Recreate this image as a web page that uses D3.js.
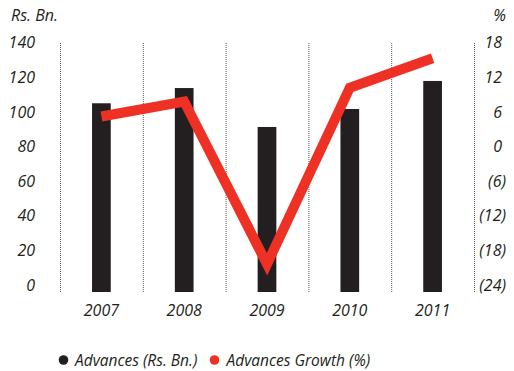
<!DOCTYPE html>
<html>
<head>
<meta charset="utf-8">
<script src="https://cdn.jsdelivr.net/npm/d3@7"></script>
<style>
  html, body { margin: 0; padding: 0; background: #fff; }
  svg text { font-family: "Open Sans", "Noto Sans", sans-serif; font-style: italic; fill: #231f20; }
</style>
</head>
<body>
<svg id="chart" width="514" height="371"></svg>
<script>
// Advances and year-on-year growth
const years = ["2007", "2008", "2009", "2010", "2011"];
const advances = [105, 113.8, 91.3, 101.7, 117.9];      // Rs. Bn.
const growth = [5.2, 7.8, -20.4, 10.2, 15.3];           // %
const leftTicks = [0, 20, 40, 60, 80, 100, 120, 140];
const rightTicks = [-24, -18, -12, -6, 0, 6, 12, 18];

const BLACK = "#231f20";
const RED = "#ee3124";

const svg = d3.select("#chart");

const plotTop = 43, plotBottom = 292;

const x = d3.scaleBand().domain(years).range([60, 474]).paddingInner(0).paddingOuter(0);
const yL = d3.scaleLinear().domain([0, 140]).range([285, 42.7]);
const yR = d3.scaleLinear().domain([-24, 18]).range([285, 42.7]);

// dotted separators between years
const seps = x.domain().map(d => x(d)).concat([x.range()[1]]);
svg.append("g").selectAll("line").data(seps).join("line")
  .attr("x1", d => d + 0.5).attr("x2", d => d + 0.5)
  .attr("y1", plotTop).attr("y2", plotBottom)
  .attr("stroke", "#555").attr("stroke-width", 1)
  .attr("stroke-dasharray", "1,1");

// bars
const barW = 18.7;
svg.append("g").selectAll("rect").data(advances).join("rect")
  .attr("x", (d, i) => x(years[i]) + x.bandwidth() / 2 - barW / 2)
  .attr("width", barW)
  .attr("y", d => yL(d))
  .attr("height", d => plotBottom - yL(d))
  .attr("fill", BLACK);

// growth line
const line = d3.line()
  .x((d, i) => x(years[i]) + x.bandwidth() / 2)
  .y(d => yR(d));
svg.append("path").datum(growth)
  .attr("d", line)
  .attr("fill", "none")
  .attr("stroke", RED)
  .attr("stroke-width", 10)
  .attr("stroke-linejoin", "miter")
  .attr("stroke-miterlimit", 10)
  .attr("stroke-linecap", "butt");

// left axis
const leftAxis = d3.axisLeft(yL).tickValues(leftTicks).tickSize(0).tickPadding(0);
const gL = svg.append("g").attr("transform", "translate(35,0)").call(leftAxis);
gL.select(".domain").remove();
gL.selectAll("text").attr("font-size", 16).attr("font-family", null).attr("fill", null);

// right axis, negatives shown in parentheses
const fmtR = v => v < 0 ? "(" + Math.abs(v) + ")" : String(v);
const rightAxis = d3.axisRight(yR).tickValues(rightTicks).tickSize(0).tickPadding(0).tickFormat(fmtR);
const gR = svg.append("g").call(rightAxis);
gR.select(".domain").remove();
gR.selectAll("text")
  .attr("font-size", 16).attr("font-family", null).attr("fill", null)
  .attr("text-anchor", "end")
  .attr("x", d => d < 0 ? 506 : 502);

// x axis labels
const xAxis = d3.axisBottom(x).tickSize(0).tickPadding(0);
const gX = svg.append("g").attr("transform", "translate(0,305)").call(xAxis);
gX.select(".domain").remove();
gX.selectAll("text").attr("font-size", 16).attr("font-family", null).attr("fill", null);

// axis titles
svg.append("text").attr("x", 11).attr("y", 20.5).attr("font-size", 16).text("Rs. Bn.");
svg.append("text").attr("x", 506).attr("y", 20.5).attr("font-size", 16).attr("text-anchor", "end").text("%");

// legend
const legend = [
  { label: "Advances (Rs. Bn.)", color: BLACK, cx: 63.5, tx: 75 },
  { label: "Advances Growth (%)", color: RED, cx: 214.5, tx: 226.5 }
];
const gLeg = svg.append("g");
gLeg.selectAll("circle").data(legend).join("circle")
  .attr("cx", d => d.cx).attr("cy", 360).attr("r", 4.8).attr("fill", d => d.color);
gLeg.selectAll("text").data(legend).join("text")
  .attr("x", d => d.tx).attr("y", 365.5).attr("font-size", 15.5).text(d => d.label);
</script>
</body>
</html>
